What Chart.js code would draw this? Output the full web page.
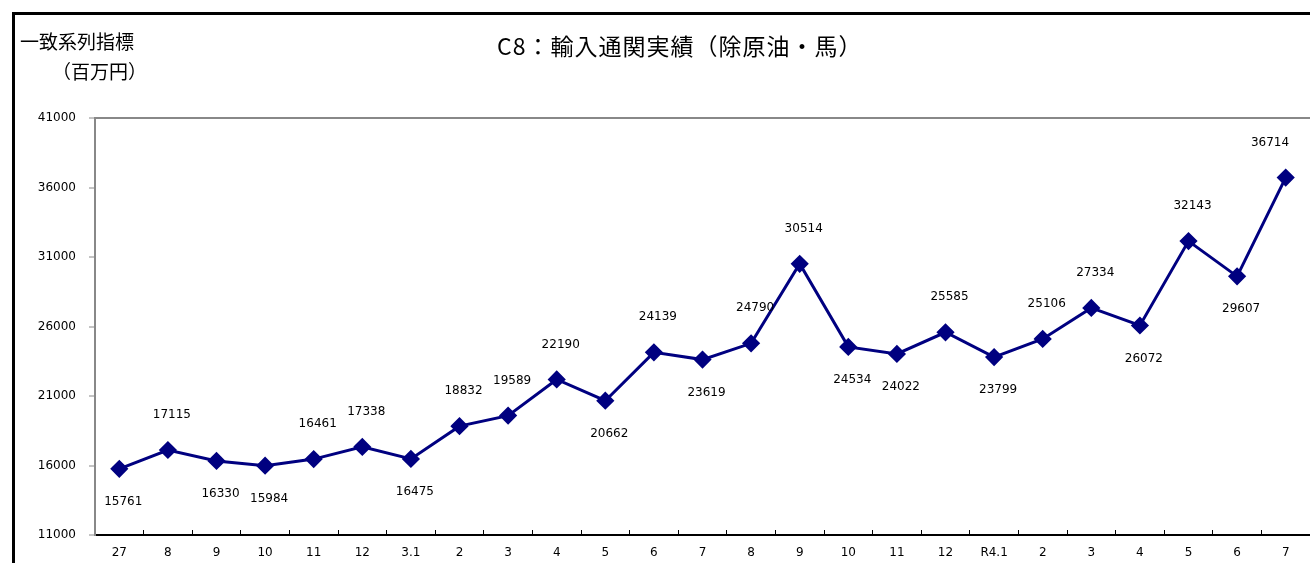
<!DOCTYPE html>
<html>
<head>
<meta charset="utf-8">
<script src="https://cdn.jsdelivr.net/npm/chart.js@4.4.0/dist/chart.umd.min.js"></script>
<style>
  html, body { margin: 0; padding: 0; background: #fff; overflow: hidden; }
  #wrap { position: relative; width: 1310px; height: 563px; overflow: hidden; }
  #frame { position: absolute; left: 12px; top: 12px; width: 1400px; height: 700px; border: 3px solid #000; box-sizing: border-box; }
  #myChart { position: absolute; left: 0; top: 0; }
  .txt { position: absolute; font-family: "Noto Sans CJK JP", sans-serif; color: #000; white-space: nowrap; }
  #titulo { left: 497px; top: 28px; font-size: 23px; letter-spacing: 1px; }
  #ejeY1 { left: 20px; top: 27px; font-size: 19px; }
  #ejeY2 { left: 52px; top: 57px; font-size: 19px; }
</style>
</head>
<body>
<div id="wrap">
  <div id="frame"></div>
  <canvas id="myChart" width="1320" height="563"></canvas>
  <div class="txt" id="titulo">C8：輸入通関実績（除原油・馬）</div>
  <div class="txt" id="ejeY1">一致系列指標</div>
  <div class="txt" id="ejeY2">（百万円）</div>
</div>
<script>
// datos del grafico
const meses = ['27', '8', '9', '10', '11', '12', '3.1', '2', '3', '4', '5', '6', '7', '8', '9', '10', '11', '12', 'R4.1', '2', '3', '4', '5', '6', '7'];
const valores = [15761, 17115, 16330, 15984, 16461, 17338, 16475, 18832, 19589, 22190, 20662, 24139, 23619, 24790, 30514, 24534, 24022, 25585, 23799, 25106, 27334, 26072, 32143, 29607, 36714];
// arriba (a) / abajo (b) de cada etiqueta
const posEtiqueta = ['b', 'a', 'b', 'b', 'a', 'a', 'b', 'a', 'a', 'a', 'b', 'a', 'b', 'a', 'a', 'b', 'b', 'a', 'b', 'a', 'a', 'b', 'a', 'b', 'a'];
const ticksY = [11000, 16000, 21000, 26000, 31000, 36000, 41000];

const fuente = '"DejaVu Sans", sans-serif';

// plugin para poner los valores
const etiquetas = {
  id: 'etiquetas',
  afterDatasetsDraw(chart) {
    const ctx = chart.ctx;
    const meta = chart.getDatasetMeta(0);
    ctx.save();
    ctx.font = '12px ' + fuente;
    ctx.fillStyle = '#000';
    ctx.textAlign = 'center';
    ctx.textBaseline = 'middle';
    meta.data.forEach((pt, idx) => {
      let dy = posEtiqueta[idx] === 'a' ? -35 : 33;
      let x = Math.min(pt.x + 4, 1270);
      ctx.fillText(String(valores[idx]), x, pt.y + dy);
    });
    ctx.restore();
  }
};

let grafico = new Chart(document.getElementById('myChart'), {
  type: 'line',
  data: {
    labels: meses,
    datasets: [{
      data: valores,
      borderColor: '#000080',
      backgroundColor: '#000080',
      borderWidth: 3,
      pointStyle: 'rectRot',
      pointRadius: 7,
      pointHoverRadius: 7,
      pointBackgroundColor: '#000080',
      pointBorderColor: '#000080',
      tension: 0,
      fill: false
    }]
  },
  options: {
    responsive: false,
    animation: false,
    layout: { padding: { left: 0, top: 118, right: 5, bottom: 0 } },
    plugins: {
      legend: { display: false },
      title: { display: false },
      tooltip: { enabled: false }
    },
    scales: {
      x: {
        type: 'category',
        offset: true,
        afterFit: function (scale) { scale.height = 28; },
        grid: {
          offset: true,
          drawOnChartArea: false,
          drawTicks: true,
          tickLength: -5,
          tickColor: '#000',
          tickWidth: 1
        },
        border: { color: '#000', width: 2 },
        ticks: {
          color: '#000',
          font: { family: fuente, size: 12 },
          padding: 16,
          maxRotation: 0,
          autoSkip: false
        }
      },
      y: {
        min: ticksY[0],
        max: ticksY[ticksY.length - 1],
        afterFit: function (scale) { scale.width = 95; },
        afterBuildTicks: function (scale) {
          scale.ticks = ticksY.map(v => ({ value: v }));
        },
        grid: {
          drawOnChartArea: true,
          color: ctx => (ctx.tick && ctx.tick.value === 41000) ? '#888' : 'rgba(0,0,0,0)',
          lineWidth: 2,
          tickColor: '#888',
          tickLength: 6,
          tickWidth: 1
        },
        border: { color: '#888', width: 2 },
        ticks: {
          color: '#000',
          font: { family: fuente, size: 12 },
          padding: 13,
          callback: function (v) { return String(v); }
        }
      }
    }
  },
  plugins: [etiquetas]
});
</script>
</body>
</html>
